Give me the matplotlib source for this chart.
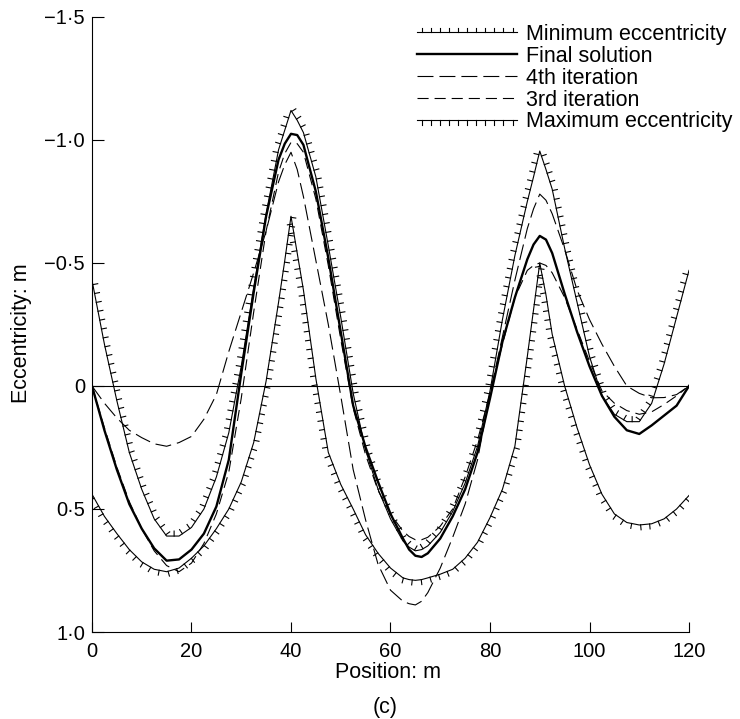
import matplotlib
matplotlib.use('Agg')
import matplotlib.pyplot as plt
import matplotlib.patheffects as pe

plt.rcParams['font.family'] = ['Liberation Sans', 'DejaVu Sans']
plt.rcParams['lines.scale_dashes'] = False

# Lage entlang des Trägers (m), an den Spitzen etwas dichter
position = [0, 2.5, 5, 7.5, 10, 12.5, 15, 17.5, 20, 22.5, 25, 27.5, 30, 32.5, 35,
            37.5, 38.75, 40, 41.25, 42.5, 45, 47.5, 50, 52.5, 55, 57.5, 60, 62.5,
            63.75, 65, 66.25, 67.5, 70, 72.5, 75, 77.5, 80, 82.5, 85, 87.5, 88.75,
            90, 91.25, 92.5, 95, 97.5, 100, 102.5, 105, 107.5, 110, 112.5, 115,
            117.5, 120]

# Exzentrizitaeten (m), positiv nach unten
e_min = [-0.43, -0.17, 0.06, 0.27, 0.42, 0.54, 0.61, 0.61, 0.575, 0.50, 0.37, 0.19,
         -0.08, -0.40, -0.70, -0.96, -1.04, -1.12, -1.08, -1.03, -0.85, -0.57, -0.28,
         0.03, 0.26, 0.42, 0.54, 0.63, 0.655, 0.67, 0.665, 0.65, 0.595, 0.51, 0.395,
         0.245, 0.02, -0.27, -0.53, -0.75, -0.85, -0.955, -0.88, -0.80, -0.56, -0.34,
         -0.12, 0.04, 0.115, 0.145, 0.145, 0.07, -0.09, -0.28, -0.47]

final = [0.0, 0.18, 0.34, 0.48, 0.58, 0.66, 0.71, 0.705, 0.665, 0.60, 0.49, 0.30,
         -0.05, -0.38, -0.69, -0.92, -0.985, -1.025, -1.02, -0.98, -0.79, -0.52, -0.22,
         0.08, 0.25, 0.39, 0.52, 0.62, 0.665, 0.69, 0.695, 0.68, 0.62, 0.53, 0.42,
         0.27, 0.05, -0.18, -0.36, -0.515, -0.575, -0.61, -0.595, -0.54, -0.375,
         -0.22, -0.08, 0.04, 0.125, 0.18, 0.195, 0.16, 0.12, 0.08, 0.0]

iter4 = [0.0, 0.07, 0.13, 0.18, 0.21, 0.235, 0.245, 0.23, 0.205, 0.135, 0.035, -0.14,
         -0.30, -0.46, -0.63, -0.83, -0.90, -0.95, -0.88, -0.77, -0.51, -0.25, 0.04,
         0.34, 0.545, 0.725, 0.83, 0.875, 0.885, 0.89, 0.875, 0.84, 0.74, 0.615, 0.48,
         0.30, 0.03, -0.20, -0.43, -0.64, -0.72, -0.78, -0.755, -0.70, -0.555, -0.39,
         -0.27, -0.17, -0.08, 0.0, 0.03, 0.048, 0.047, 0.035, 0.0]

iter3 = [0.0, 0.17, 0.33, 0.47, 0.58, 0.67, 0.73, 0.755, 0.72, 0.64, 0.52, 0.35,
         0.05, -0.30, -0.63, -0.87, -0.945, -0.99, -0.985, -0.95, -0.76, -0.49, -0.19,
         0.09, 0.28, 0.425, 0.52, 0.59, 0.612, 0.625, 0.625, 0.615, 0.57, 0.50, 0.37,
         0.22, 0.03, -0.17, -0.36, -0.47, -0.49, -0.50, -0.49, -0.46, -0.36, -0.23,
         -0.10, 0.02, 0.07, 0.10, 0.115, 0.105, 0.075, 0.04, 0.0]

e_max = [0.44, 0.53, 0.60, 0.665, 0.715, 0.745, 0.755, 0.74, 0.70, 0.65, 0.58, 0.50,
         0.39, 0.23, -0.02, -0.34, -0.51, -0.69, -0.54, -0.39, -0.03, 0.27, 0.40, 0.50,
         0.605, 0.68, 0.74, 0.78, 0.787, 0.79, 0.787, 0.78, 0.765, 0.745, 0.70, 0.635,
         0.535, 0.42, 0.245, -0.12, -0.31, -0.50, -0.37, -0.21, 0.0, 0.17, 0.32, 0.44,
         0.52, 0.555, 0.565, 0.56, 0.54, 0.50, 0.445]

fig = plt.figure(figsize=(7.4, 7.19), dpi=100)
ax = fig.add_axes([0.1243, 0.1210, 0.8068, 0.8554])

ax.axhline(0, color='k', lw=0.8)

ax.plot(position, e_min, color='k', lw=0.8, label='Minimum eccentricity',
        path_effects=[pe.withTickedStroke(angle=90, spacing=6.5, length=0.55)])
ax.plot(position, final, color='k', lw=1.7, label='Final solution', zorder=3)
ax.plot(position, iter4, color='k', lw=0.8, ls=(0, (11.5, 4.3)), label='4th iteration')
ax.plot(position, iter3, color='k', lw=0.8, ls=(0, (8, 4.3)), label='3rd iteration')
ax.plot(position, e_max, color='k', lw=0.8, label='Maximum eccentricity',
        path_effects=[pe.withTickedStroke(angle=-90, spacing=6.5, length=0.55)])

ax.set_xlim(0, 120)
ax.set_ylim(1.0, -1.5)
ax.spines[['top', 'right']].set_visible(False)
ax.spines[['left', 'bottom']].set_linewidth(0.8)
ax.set_xticks([0, 20, 40, 60, 80, 100, 120])
ax.set_yticks([-1.5, -1.0, -0.5, 0, 0.5, 1.0])
ax.set_yticklabels(['\u22121\u00b75', '\u22121\u00b70', '\u22120\u00b75', '0', '0\u00b75', '1\u00b70'])
ax.tick_params(axis='x', direction='in', length=7, width=0.8, labelsize=14.5, pad=7)
ax.tick_params(axis='y', direction='in', length=8.5, width=0.8, labelsize=14.5, pad=5)

fig.text(22 / 740, 1 - 333 / 719, 'Eccentricity: m', rotation=90, ha='center', va='center', fontsize=15.5)
fig.text(388 / 740, 1 - 672 / 719, 'Position: m', ha='center', va='center', fontsize=15.5)
fig.text(385 / 740, 1 - 707 / 719, '(c)', ha='center', va='center', fontsize=15.5)

ax.legend(loc='upper left', bbox_to_anchor=(417 / 740, 1 - 24 / 719),
          bbox_transform=fig.transFigure, frameon=False, fontsize=15.5,
          handlelength=4.65, handletextpad=0.42, labelspacing=0.04,
          borderpad=0, borderaxespad=0)

fig.savefig('out.png', dpi=100)
